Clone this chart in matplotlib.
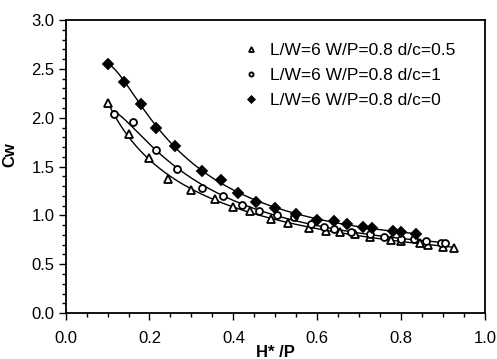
import numpy as np
import matplotlib
matplotlib.use("Agg")
import matplotlib.pyplot as plt
from matplotlib.ticker import MultipleLocator

plt.rcParams['font.family'] = ['Liberation Sans', 'DejaVu Sans']

# d/c = 0.5 (triangles)
x_tri = [0.10, 0.15, 0.20, 0.245, 0.30, 0.355, 0.40, 0.44, 0.49, 0.53, 0.58,
         0.62, 0.655, 0.69, 0.725, 0.775, 0.80, 0.845, 0.865, 0.90, 0.925]
y_tri = [2.15, 1.83, 1.59, 1.37, 1.265, 1.17, 1.09, 1.045, 0.96, 0.92, 0.873,
         0.84, 0.826, 0.806, 0.78, 0.747, 0.737, 0.713, 0.70, 0.68, 0.67]

# d/c = 1 (circles)
x_cir = [0.115, 0.16, 0.215, 0.265, 0.325, 0.375, 0.42, 0.46, 0.505, 0.545, 0.585,
         0.615, 0.64, 0.68, 0.725, 0.76, 0.80, 0.83, 0.86, 0.895, 0.905]
y_cir = [2.04, 1.96, 1.67, 1.48, 1.28, 1.20, 1.11, 1.05, 1.00, 0.98, 0.91,
         0.88, 0.86, 0.835, 0.806, 0.78, 0.757, 0.757, 0.737, 0.72, 0.72]

# d/c = 0 (diamonds)
x_dia = [0.10, 0.14, 0.18, 0.215, 0.26, 0.325, 0.37, 0.41, 0.455, 0.50, 0.55,
         0.60, 0.64, 0.67, 0.71, 0.73, 0.78, 0.80, 0.835]
y_dia = [2.55, 2.37, 2.14, 1.90, 1.71, 1.45, 1.36, 1.23, 1.14, 1.08, 1.01,
         0.955, 0.94, 0.91, 0.88, 0.87, 0.84, 0.826, 0.806]

labels = ["L/W=6 W/P=0.8 d/c=0.5", "L/W=6 W/P=0.8 d/c=1", "L/W=6 W/P=0.8 d/c=0"]

fig = plt.figure(figsize=(4.97, 3.59), dpi=100)
ax = fig.add_axes([0.132, 0.128, 0.844, 0.816])

series = [(x_tri, y_tri, '^', 'white', 6),
          (x_cir, y_cir, 'o', 'white', 5),
          (x_dia, y_dia, 'D', 'black', 5.5)]

for (xs, ys, mk, fc, ms), lab in zip(series, labels):
    xs = np.array(xs)
    ys = np.array(ys)
    # smooth trend line through the data
    p = np.polyfit(np.log(xs), np.log(ys), 3)
    xx = np.linspace(xs.min(), xs.max(), 200)
    ax.plot(xx, np.exp(np.polyval(p, np.log(xx))), color='black', lw=1.0, zorder=2)
    ax.plot(xs, ys, linestyle='none', marker=mk, ms=ms, mfc=fc, mec='black',
            mew=1.3, label=lab, zorder=3)

ax.set_xlim(0, 1.0)
ax.set_ylim(0, 3.0)
ax.xaxis.set_major_locator(MultipleLocator(0.2))
ax.xaxis.set_minor_locator(MultipleLocator(0.05))
ax.yaxis.set_major_locator(MultipleLocator(0.5))
ax.yaxis.set_minor_locator(MultipleLocator(0.1))
ax.xaxis.set_major_formatter(plt.FormatStrFormatter('%.1f'))
ax.yaxis.set_major_formatter(plt.FormatStrFormatter('%.1f'))
ax.tick_params(which='both', direction='out', labelsize=12, width=1.0)
ax.tick_params(which='major', length=5)
ax.tick_params(which='minor', length=3)
ax.tick_params(axis='x', pad=8)
ax.tick_params(axis='y', pad=3)
for s in ax.spines.values():
    s.set_linewidth(1.3)

ax.set_xlabel("H* /P", fontsize=12, fontweight='bold', labelpad=-1)
ax.set_ylabel("Cw", fontsize=12, fontweight='bold')
ax.yaxis.set_label_coords(-0.115, 0.54)

ax.legend(loc='upper right', bbox_to_anchor=(0.966, 0.975), frameon=False,
          fontsize=12.5, markerscale=0.6, handlelength=1.0, handletextpad=0.6,
          labelspacing=0.55)

fig.savefig("out.png", dpi=100)
